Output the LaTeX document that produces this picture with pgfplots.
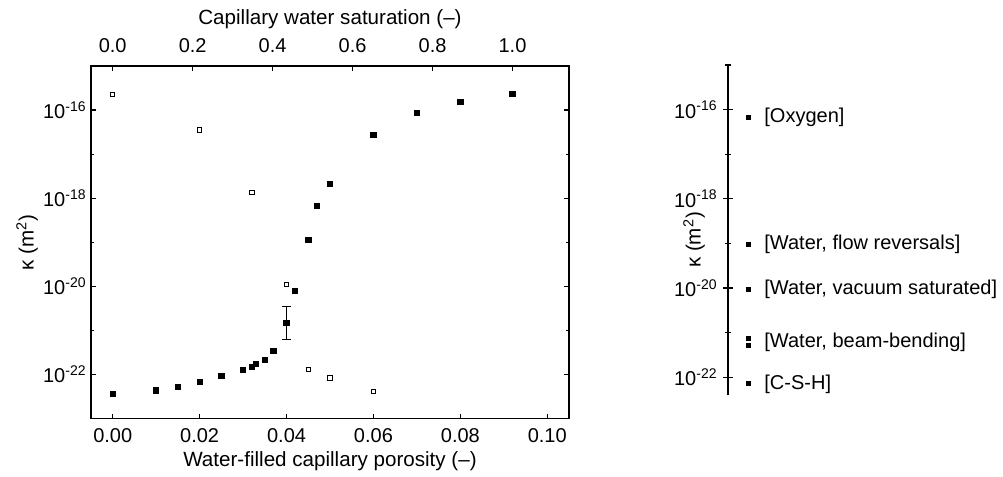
\documentclass[border=0pt]{standalone}
\usepackage{fontspec}
\setmainfont{Liberation Sans}
\usepackage{pgfplots}
\pgfplotsset{compat=1.18}

\pgfplotsset{
  common/.style={
    scale only axis, width=239pt, height=176.25pt,
    at={(0,0)}, anchor=south west,
    tick align=inside,
    major tick length=2.5pt, minor tick length=1.5pt,
    axis line style={line width=0.75pt},
    tick style={line width=0.6pt, black},
    tick label style={font=\fontsize{10}{12}\selectfont},
    label style={font=\fontsize{10.3}{12}\selectfont},
  },
}

\begin{document}
\begin{tikzpicture}
\path[use as bounding box] (-45.5pt,-29.25pt) rectangle (456pt,209.25pt);

% main axis (porosity)
\begin{axis}[common,
  xmin=-0.005, xmax=0.105,
  ymode=log, ymin=1e-23, ymax=1e-15,
  xtick={0,0.02,0.04,0.06,0.08,0.1},
  xtick pos=left,
  xticklabel style={/pgf/number format/.cd, fixed, fixed zerofill, precision=2,
    assume math mode=true, /tikz/.cd, anchor=base, yshift=-11.75pt},
  ytick={1e-22,1e-20,1e-18,1e-16},
  yticklabels={10\textsuperscript{-22},10\textsuperscript{-20},10\textsuperscript{-18},10\textsuperscript{-16}},
  minor ytick={1e-23,1e-21,1e-19,1e-17,1e-15},
  yticklabel style={inner sep=0pt, xshift=-2pt},
  xlabel={Water-filled capillary porosity (–)},
  xlabel style={at={(axis description cs:0.5,-0.1348)}, anchor=base},
  ylabel={κ (m\textsuperscript{2})},
  ylabel style={at={(axis description cs:-0.12,0.5)}, anchor=base},
]
% open squares
\addplot[only marks, mark=square, mark size=1.1pt, mark options={line width=0.45pt, black}]
  coordinates {
  (0.000,2.29e-16) (0.020,3.55e-17) (0.032,1.35e-18) (0.040,1.12e-20)
  (0.045,1.29e-22) (0.050,8.32e-23) (0.060,4.07e-23)
};
% filled squares
\addplot[only marks, mark=square*, mark size=1.33pt, black]
  coordinates {
  (0.000,3.63e-23) (0.010,4.37e-23) (0.015,5.25e-23) (0.020,6.76e-23)
  (0.025,9.12e-23) (0.030,1.26e-22) (0.032,1.51e-22) (0.033,1.74e-22)
  (0.035,2.14e-22) (0.037,3.39e-22) (0.042,7.94e-21)
  (0.045,1.12e-19) (0.047,6.61e-19) (0.050,2.14e-18) (0.060,2.75e-17)
  (0.070,8.51e-17) (0.080,1.55e-16) (0.092,2.29e-16)
};
% point with error bar
\addplot[only marks, mark=square*, mark size=1.33pt, black,
  error bars/.cd, y dir=both, y explicit,
  error bar style={line width=0.5pt, black},
  error mark options={rotate=90, mark size=2.3pt, line width=0.5pt, black}]
  coordinates {
  (0.040,1.48e-21) += (0,2.07e-21) -= (0,0.85e-21)
};
\end{axis}

% top axis (saturation)
\begin{axis}[common,
  xmin=-0.0543, xmax=1.1413, ymin=0, ymax=1,
  axis x line*=top, axis y line=none,
  xtick={0,0.2,0.4,0.6,0.8,1.0},
  xticklabel style={/pgf/number format/.cd, fixed, fixed zerofill, precision=1,
    assume math mode=true, /tikz/.cd, anchor=base, yshift=6.5pt},
  xlabel={Capillary water saturation (–)},
  xlabel style={at={(axis description cs:0.5,1.1163)}, anchor=base},
]
\end{axis}

% right reference scale
\begin{axis}[common,
  at={(318.5pt,11.75pt)}, width=20pt, height=165pt,
  xmin=0, xmax=1, ymode=log, ymin=3.98e-23, ymax=1e-15,
  hide x axis, axis y line=left, axis line style={-, line width=0.75pt},
  tick align=center, major tick length=5pt, minor tick length=3pt,
  ytick={1e-22,1e-20,1e-18,1e-16},
  yticklabels={10\textsuperscript{-22},10\textsuperscript{-20},10\textsuperscript{-18},10\textsuperscript{-16}},
  minor ytick={1e-21,1e-19,1e-17,1e-15},
  yticklabel style={inner sep=0pt, xshift=-2.5pt},
  ylabel={κ (m\textsuperscript{2})},
  ylabel style={at={(axis description cs:-0.85,0.47)}, anchor=center},
  clip=false,
]
\addplot[only marks, mark=square*, mark size=1pt, black]
  coordinates {
  (0.5,6.61e-17) (0.5,9.33e-20) (0.5,9.12e-21) (0.5,7.24e-22) (0.5,5.25e-22) (0.5,7.08e-23)
};
\begin{scope}[every node/.style={anchor=west, inner sep=0pt, font=\fontsize{10}{12}\selectfont}]
\node at (axis cs:0.9,6.61e-17) {[Oxygen]};
\node at (axis cs:0.9,9.33e-20) {[Water, flow reversals]};
\node at (axis cs:0.9,9.12e-21) {[Water, vacuum saturated]};
\node at (axis cs:0.9,6.17e-22) {[Water, beam-bending]};
\node at (axis cs:0.9,7.08e-23) {[C-S-H]};
\end{scope}
\end{axis}
\end{tikzpicture}
\end{document}
